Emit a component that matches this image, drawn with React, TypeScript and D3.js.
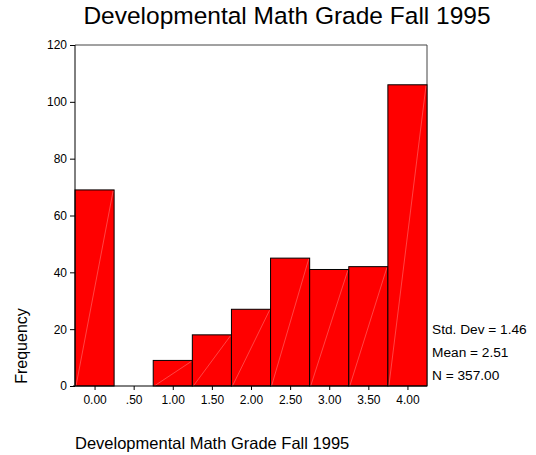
import { useEffect, useRef } from "react";
import * as d3 from "d3";

const binCenters = [0, 0.5, 1, 1.5, 2, 2.5, 3, 3.5, 4];
const binLabels = ["0.00", ".50", "1.00", "1.50", "2.00", "2.50", "3.00", "3.50", "4.00"];
const counts = [69, 0, 9, 18, 27, 45, 41, 42, 106];
const yTicks = [0, 20, 40, 60, 80, 100, 120];
const stats = ["Std. Dev = 1.46", "Mean = 2.51", "N = 357.00"];
const title = "Developmental Math Grade Fall 1995";

export default function App() {
  const ref = useRef<SVGSVGElement>(null);

  useEffect(() => {
    const width = 536;
    const height = 455;
    const margin = { top: 45, right: 109, bottom: 69, left: 75 };
    const font = "Arial, 'Liberation Sans', sans-serif";

    const svg = d3.select(ref.current);
    svg.selectAll("*").remove();
    svg.attr("width", width).attr("height", height).style("font-family", font);

    const x = d3
      .scaleLinear()
      .domain([-0.25, 4.25])
      .range([margin.left, width - margin.right]);
    const y = d3
      .scaleLinear()
      .domain([0, 120])
      .range([height - margin.bottom, margin.top]);
    const half = 0.25;

    // frame top and right
    svg
      .append("path")
      .attr("d", `M${x(-0.25)},${y(120)}H${x(4.25)}V${y(0)}`)
      .attr("fill", "none")
      .attr("stroke", "#444")
      .attr("stroke-width", 1);

    const bars = svg.append("g");
    bars
      .selectAll("rect")
      .data(counts)
      .join("rect")
      .attr("x", (d, i) => x(binCenters[i] - half))
      .attr("y", (d) => y(d))
      .attr("width", x(half * 2) - x(0))
      .attr("height", (d) => y(0) - y(d))
      .attr("fill", "#ff0000")
      .attr("stroke", "#000")
      .attr("stroke-width", 1);

    // faint diagonal inside each bar
    bars
      .selectAll("line")
      .data(counts.map((d, i) => ({ d, i })).filter((o) => o.d > 0))
      .join("line")
      .attr("x1", (o) => x(binCenters[o.i] - half) + 1)
      .attr("y1", y(0))
      .attr("x2", (o) => x(binCenters[o.i] + half) - 1)
      .attr("y2", (o) => y(o.d) + 1)
      .attr("stroke", "#ffffff")
      .attr("stroke-opacity", 0.45)
      .attr("stroke-width", 0.6);

    svg
      .append("g")
      .attr("transform", `translate(${margin.left},0)`)
      .call(d3.axisLeft(y).tickValues(yTicks).tickSize(5).tickPadding(3).tickFormat(d3.format("d")))
      .call((g) => g.select(".domain").attr("d", `M0,${y(120)}V${y(0)}`))
      .call((g) => g.selectAll("text").attr("font-size", 12).attr("fill", "#000").style("font-family", font))
      .call((g) => g.selectAll("path,line").attr("stroke", "#000"));

    svg
      .append("g")
      .attr("transform", `translate(0,${y(0)})`)
      .call(
        d3
          .axisBottom(x)
          .tickValues(binCenters)
          .tickSize(4)
          .tickPadding(5)
          .tickFormat((d, i) => binLabels[i])
      )
      .call((g) => g.select(".domain").attr("d", `M${x(-0.25) - 2},0H${x(4.25)}`))
      .call((g) => g.selectAll("text").attr("font-size", 12).attr("fill", "#000").style("font-family", font))
      .call((g) => g.selectAll("path,line").attr("stroke", "#000"));

    svg
      .append("text")
      .attr("x", 287)
      .attr("y", 24)
      .attr("text-anchor", "middle")
      .attr("font-size", 24.5)
      .attr("fill", "#000")
      .text(title);

    svg
      .append("text")
      .attr("transform", `translate(27,346) rotate(-90)`)
      .attr("text-anchor", "middle")
      .attr("font-size", 16)
      .attr("fill", "#000")
      .text("Frequency");

    svg
      .append("text")
      .attr("x", 75)
      .attr("y", 449)
      .attr("font-size", 16.5)
      .attr("fill", "#000")
      .text(title);

    svg
      .append("g")
      .selectAll("text")
      .data(stats)
      .join("text")
      .attr("x", 432)
      .attr("y", (d, i) => 334 + i * 23)
      .attr("font-size", 13.7)
      .attr("fill", "#000")
      .text((d) => d);
  }, []);

  return <svg ref={ref} style={{ position: "absolute", left: 0, top: 0 }} />;
}
